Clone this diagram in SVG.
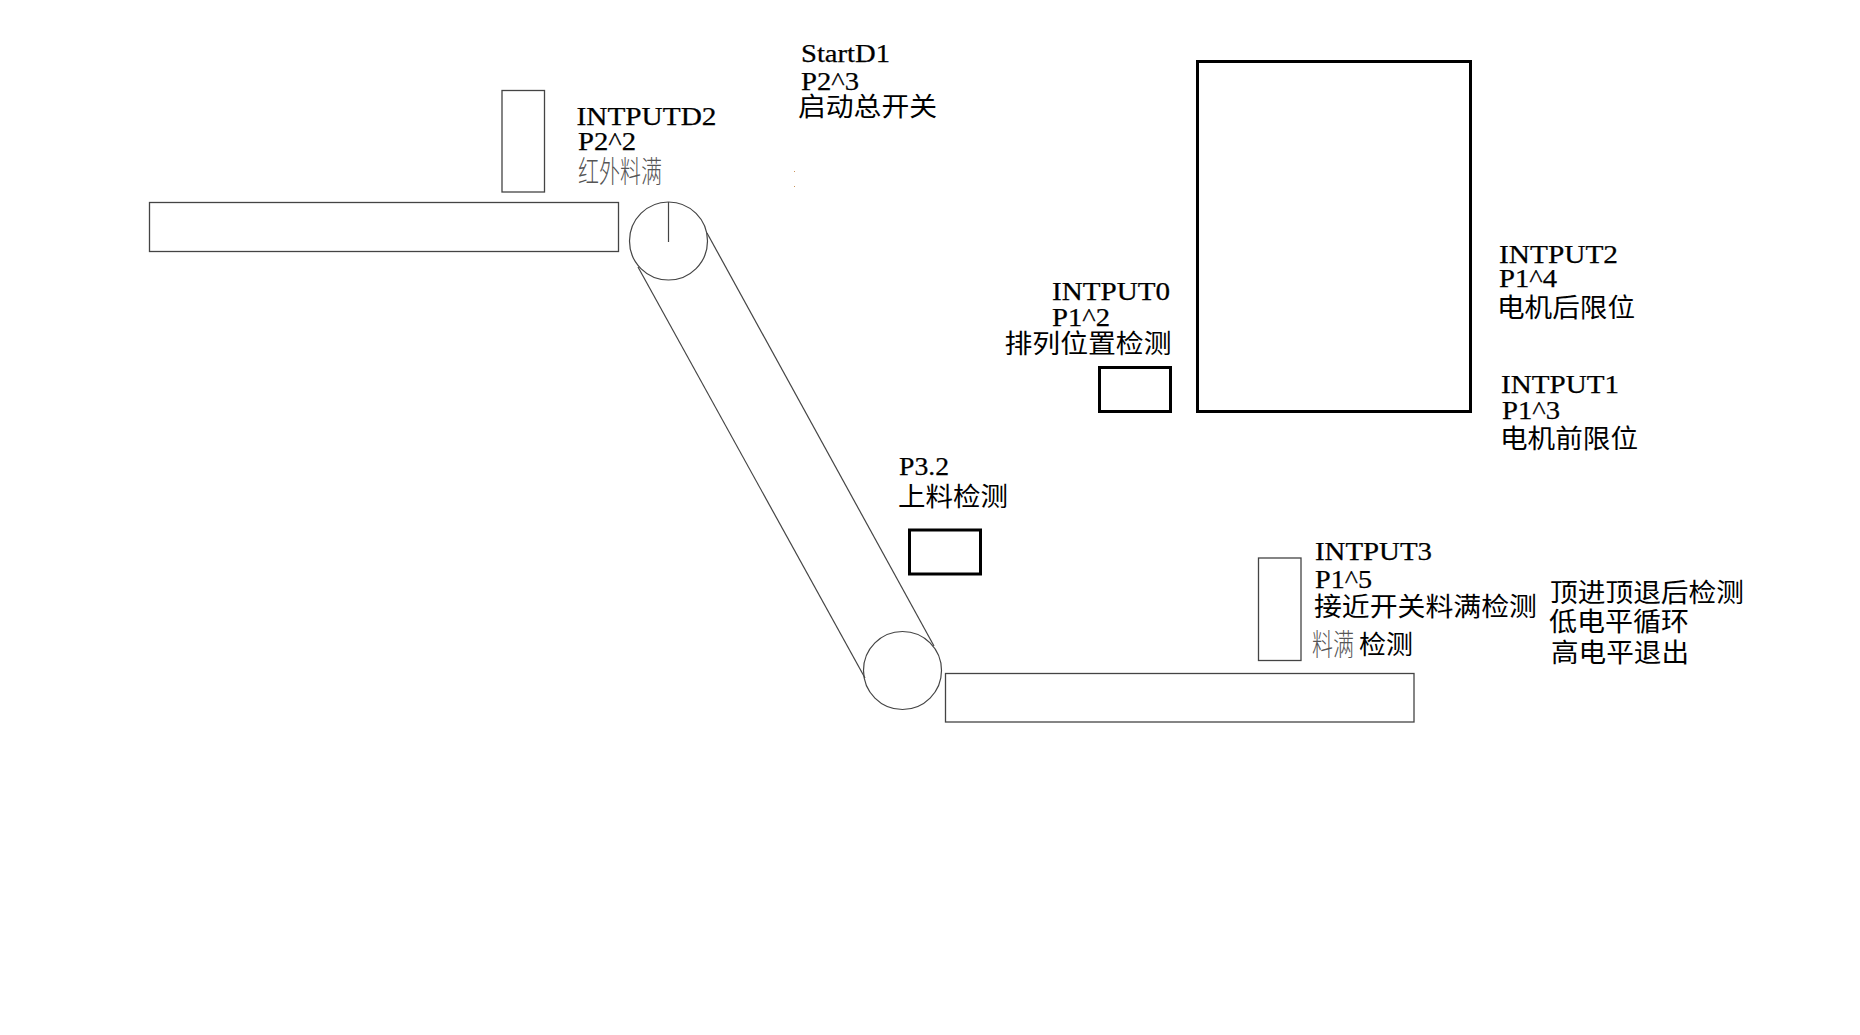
<svg xmlns="http://www.w3.org/2000/svg" width="1860" height="1035" viewBox="0 0 1860 1035">
<style>
.thin{fill:#fff;stroke:#444;stroke-width:1.3}
.thick{fill:#fff;stroke:#000;stroke-width:3}
.line{fill:none;stroke:#444;stroke-width:1.2}
.speck{fill:#c9935a}
text{font-family:"Liberation Serif","Noto Sans CJK SC",serif;fill:#000}
.en{font-size:26px;stroke:#000;stroke-width:.25}
.cn{font-size:26px;font-family:"Noto Sans CJK SC","Liberation Serif",serif}
.gray{fill:#555;font-weight:300;font-size:30px}
</style>
<rect width="1860" height="1035" fill="#fff"/>
<g id="connectors">
<line class="line" x1="638" y1="267" x2="865" y2="678"/>
<line class="line" x1="707" y1="233" x2="934" y2="646"/>
</g>
<g id="conveyor-left"><rect class="thin" x="149.5" y="202.5" width="469" height="49"/></g>
<g id="sensor-d2">
<rect class="thin" x="502" y="90.5" width="42.5" height="101.5"/>
<text class="en" x="576.5" y="125" textLength="140" lengthAdjust="spacingAndGlyphs">INTPUTD2</text>
<text class="en" x="578" y="150" textLength="58" lengthAdjust="spacingAndGlyphs">P2^2</text>
<text class="cn gray" x="578" y="182" textLength="84" lengthAdjust="spacingAndGlyphs">红外料满</text>
</g>
<g id="roller-top">
<circle class="line" cx="668.5" cy="241" r="39"/>
<line class="line" x1="668.5" y1="202" x2="668.5" y2="242"/>
</g>
<g id="roller-bottom"><circle class="line" cx="902.5" cy="670.5" r="39"/></g>
<g id="start-d1">
<text class="en" x="801" y="62" textLength="89" lengthAdjust="spacingAndGlyphs">StartD1</text>
<text class="en" x="801" y="90" textLength="58" lengthAdjust="spacingAndGlyphs">P2^3</text>
<text class="cn" x="798" y="116" textLength="139" lengthAdjust="spacingAndGlyphs">启动总开关</text>
<rect class="speck" x="794" y="171" width="1" height="1"/>
<rect class="speck" x="794" y="186" width="1" height="1"/>
</g>
<g id="motor-box"><rect class="thick" x="1197.5" y="61.5" width="273" height="350"/></g>
<g id="input0">
<rect class="thick" x="1099.5" y="367.5" width="71" height="44"/>
<text class="en" x="1052" y="300" textLength="118" lengthAdjust="spacingAndGlyphs">INTPUT0</text>
<text class="en" x="1052" y="326" textLength="58" lengthAdjust="spacingAndGlyphs">P1^2</text>
<text class="cn" x="1004.5" y="353" textLength="167" lengthAdjust="spacingAndGlyphs">排列位置检测</text>
</g>
<g id="input2">
<text class="en" x="1499" y="263" textLength="119" lengthAdjust="spacingAndGlyphs">INTPUT2</text>
<text class="en" x="1499" y="287" textLength="58" lengthAdjust="spacingAndGlyphs">P1^4</text>
<text class="cn" x="1497" y="317" textLength="138" lengthAdjust="spacingAndGlyphs">电机后限位</text>
</g>
<g id="input1">
<text class="en" x="1501" y="393" textLength="118" lengthAdjust="spacingAndGlyphs">INTPUT1</text>
<text class="en" x="1502" y="419" textLength="58" lengthAdjust="spacingAndGlyphs">P1^3</text>
<text class="cn" x="1500" y="448" textLength="138" lengthAdjust="spacingAndGlyphs">电机前限位</text>
</g>
<g id="p32">
<rect class="thick" x="909.5" y="530" width="71" height="44"/>
<text class="en" x="899" y="475" textLength="50" lengthAdjust="spacingAndGlyphs">P3.2</text>
<text class="cn" x="898" y="506" textLength="110" lengthAdjust="spacingAndGlyphs">上料检测</text>
</g>
<g id="conveyor-right"><rect class="thin" x="945.5" y="673.5" width="468.5" height="48.5"/></g>
<g id="input3">
<rect class="thin" x="1258.5" y="558" width="42.5" height="102.5"/>
<text class="en" x="1315" y="560" textLength="117" lengthAdjust="spacingAndGlyphs">INTPUT3</text>
<text class="en" x="1315" y="588" textLength="57" lengthAdjust="spacingAndGlyphs">P1^5</text>
<text class="cn" x="1314" y="616" textLength="223" lengthAdjust="spacingAndGlyphs">接近开关料满检测</text>
<text class="cn gray" x="1312" y="655" textLength="42" lengthAdjust="spacingAndGlyphs">料满</text>
<text class="cn" x="1359" y="654" textLength="54" lengthAdjust="spacingAndGlyphs">检测</text>
</g>
<g id="ejector-note">
<text class="cn" x="1550" y="602" textLength="194" lengthAdjust="spacingAndGlyphs">顶进顶退后检测</text>
<text class="cn" x="1549" y="631" textLength="140" lengthAdjust="spacingAndGlyphs">低电平循环</text>
<text class="cn" x="1551" y="662" textLength="138" lengthAdjust="spacingAndGlyphs">高电平退出</text>
</g>
</svg>
